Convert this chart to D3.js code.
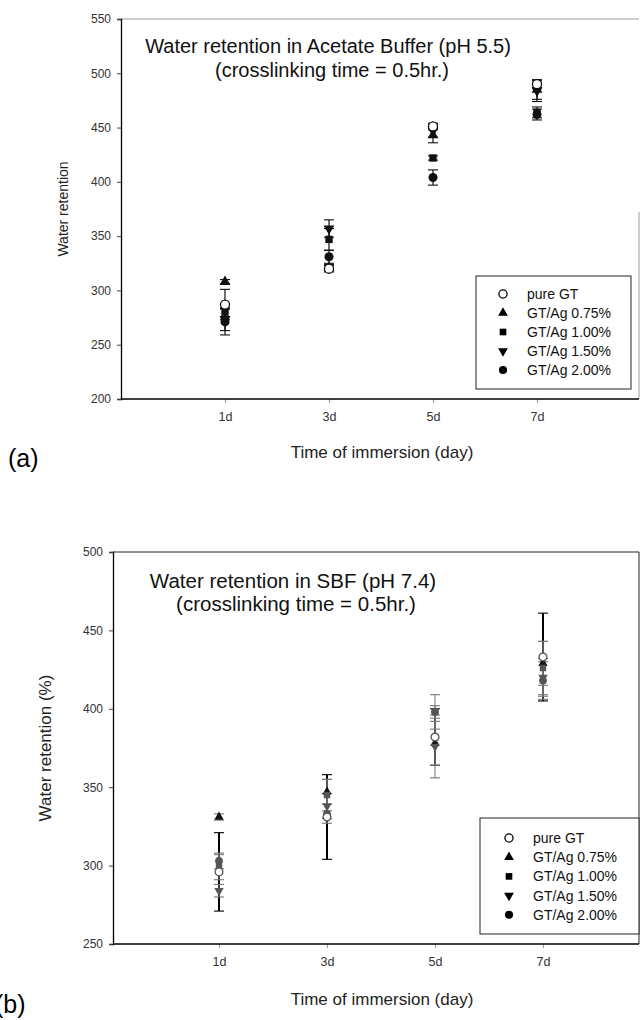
<!DOCTYPE html>
<html><head><meta charset="utf-8">
<script src="https://cdn.jsdelivr.net/npm/d3@7"></script>
<style>
html,body{margin:0;padding:0;background:#fff;}
svg{display:block;}
text{font-family:"Liberation Sans",Arial,sans-serif;}
</style></head>
<body>
<svg id="c" width="641" height="1020"></svg>
<script>
const days = ["1d","3d","5d","7d"];
const seriesNames = ["pure GT","GT/Ag 0.75%","GT/Ag 1.00%","GT/Ag 1.50%","GT/Ag 2.00%"];
const seriesShapes = ["circleOpen","triangle","square","triangleDown","circle"];

// (a) Acetate buffer pH 5.5 — mean and SD per day
const acetateMean = [
  [287, 320, 451, 490],
  [308, 321, 443, 485],
  [280, 347, 422, 464],
  [273, 357, 447, 484],
  [271, 331, 404, 462]
];
const acetateSD = [
  [14, 3, 3, 3],
  [2, 3, 7, 9],
  [4, 10, 2, 5],
  [10, 8, 6, 10],
  [12, 6, 7, 5]
];
const acetateTicks = [200,250,300,350,400,450,500,550];

// (b) SBF pH 7.4
const sbfMean = [
  [296, 331, 382, 433],
  [331, 347, 378, 429],
  [299, 345, 398, 426],
  [284, 338, 376, 420],
  [303, 333, 398, 418]
];
const sbfSD = [
  [25, 27, 18, 28],
  [2, 8, 14, 14],
  [8, 10, 11, 17],
  [4, 8, 20, 12],
  [5, 6, 4, 12]
];
const sbfTicks = [250,300,350,400,450,500];

const svg = d3.select("#c");

function shapePath(kind, size){
  if(kind==="triangle"||kind==="triangleDown") return d3.symbol(d3.symbolTriangle, size*0.8)();
  if(kind==="square") return d3.symbol(d3.symbolSquare, size*0.85)();
  return d3.symbol(d3.symbolCircle, size)();
}
function drawMarker(g, kind, x, y, size, color){
  const p = g.append("path").attr("d", shapePath(kind,size))
    .attr("transform", `translate(${x},${y})` + (kind==="triangleDown"?" rotate(180)":""));
  if(kind==="circleOpen") p.attr("fill","#fff").attr("stroke",color).attr("stroke-width",1.3);
  else p.attr("fill",color);
}

function panel(cfg){
  const g = svg.append("g");
  const x = d3.scaleLinear().domain([1,4]).range(cfg.xr);
  const y = d3.scaleLinear().domain(cfg.yd).range(cfg.yr);
  const [x0,x1] = cfg.frameX;
  // frame
  g.append("line").attr("x1",x0).attr("x2",x1).attr("y1",y(cfg.yd[1])).attr("y2",y(cfg.yd[1]))
    .attr("stroke",cfg.topColor).attr("stroke-width",1);
  g.append("line").attr("x1",x1).attr("x2",x1).attr("y1",cfg.rightTop).attr("y2",y(cfg.yd[0]))
    .attr("stroke",cfg.topColor).attr("stroke-width",1);
  // axes
  const ya = d3.axisLeft(y).tickValues(cfg.ticks).tickSize(4).tickPadding(6).tickFormat(d3.format("d"));
  const yg = g.append("g").attr("transform",`translate(${x0},0)`).call(ya);
  yg.select(".domain").attr("stroke","#000").attr("stroke-width",1.3);
  yg.selectAll(".tick line").attr("stroke","#444");
  yg.selectAll(".tick text").attr("font-size",12).attr("fill","#333")
    .attr("font-family","'Liberation Sans',Arial,sans-serif");
  const xa = d3.axisBottom(x).tickValues([1,2,3,4]).tickFormat((d,i)=>days[i]).tickSize(4).tickPadding(9);
  const xg = g.append("g").attr("transform",`translate(0,${y(cfg.yd[0])})`).call(xa);
  xg.select(".domain").remove();
  g.append("line").attr("x1",x0).attr("x2",x1).attr("y1",y(cfg.yd[0])).attr("y2",y(cfg.yd[0]))
    .attr("stroke","#000").attr("stroke-width",1.3);
  xg.selectAll(".tick line").attr("stroke","#999");
  xg.selectAll(".tick text").attr("font-size",12.5).attr("fill","#333")
    .attr("font-family","'Liberation Sans',Arial,sans-serif");
  // titles
  cfg.title.forEach((t,i)=>{
    g.append("text").attr("x",cfg.titleX[i]).attr("y",cfg.titleY[i]).attr("text-anchor","middle")
      .attr("font-size",cfg.titleSize).attr("fill","#111").text(t);
  });
  g.append("text").attr("transform",`translate(${cfg.ylabX},${(y(cfg.yd[0])+y(cfg.yd[1]))/2}) rotate(-90)`)
    .attr("text-anchor","middle").attr("font-size",cfg.ylabSize).attr("fill","#222").text(cfg.ylab);
  g.append("text").attr("x",382).attr("y",cfg.xlabY).attr("text-anchor","middle")
    .attr("font-size",17).attr("fill","#222").text("Time of immersion (day)");
  g.append("text").attr("x",cfg.tagX).attr("y",cfg.tagY).attr("font-size",25)
    .attr("font-family","'Liberation Serif','Times New Roman',serif").attr("fill","#000").text(cfg.tag);
  // data: error bars then markers
  const eg = g.append("g");
  cfg.mean.forEach((row,s)=>{
    row.forEach((m,k)=>{
      const cx = x(k+1), sd = cfg.sd[s][k];
      const col = cfg.errColor(s);
      eg.append("line").attr("x1",cx).attr("x2",cx).attr("y1",y(m-sd)).attr("y2",y(m+sd))
        .attr("stroke",col).attr("stroke-width",cfg.errW(s));
      [m-sd,m+sd].forEach(v=>eg.append("line").attr("x1",cx-5).attr("x2",cx+5)
        .attr("y1",y(v)).attr("y2",y(v)).attr("stroke",col).attr("stroke-width",1.1));
    });
  });
  const mg = g.append("g");
  [1,2,3,4,0].forEach(s=>{
    cfg.mean[s].forEach((m,k)=>drawMarker(mg, seriesShapes[s], x(k+1), y(m), cfg.mSize, cfg.mColor(s)));
  });
  // legend
  const L = cfg.legend;
  g.append("rect").attr("x",L.x).attr("y",L.y).attr("width",L.w).attr("height",L.h)
    .attr("fill","#fff").attr("stroke","#222").attr("stroke-width",1);
  seriesNames.forEach((n,i)=>{
    const yy = L.row0 + i*L.dy;
    drawMarker(g, seriesShapes[i], L.sx, yy, 52, "#000");
    g.append("text").attr("x",L.tx).attr("y",yy+5).attr("font-size",L.fs).attr("fill","#111").text(n);
  });
}

panel({
  xr:[225,537], yd:[200,550], yr:[399,19], frameX:[121,639], rightTop:212,
  topColor:"#9a9a9a", ticks:acetateTicks,
  title:["Water retention in Acetate Buffer (pH 5.5)","(crosslinking time = 0.5hr.)"],
  titleX:[328,332], titleY:[53,77], titleSize:20,
  ylab:"Water retention", ylabX:68, ylabSize:14, xlabY:458, tag:"(a)", tagX:8, tagY:467,
  mean:acetateMean, sd:acetateSD, mSize:64,
  errColor:()=> "#111", errW:()=>1.2, mColor:()=> "#111",
  legend:{x:476,y:276,w:155,h:113,row0:294,dy:19,sx:503,tx:527,fs:14}
});

panel({
  xr:[219,543], yd:[250,500], yr:[944,552], frameX:[113,639], rightTop:552,
  topColor:"#222", ticks:sbfTicks,
  title:["Water retention in SBF (pH 7.4)","(crosslinking time = 0.5hr.)"],
  titleX:[293,296], titleY:[588,611], titleSize:20.5,
  ylab:"Water retention (%)", ylabX:51, ylabSize:17, xlabY:1005, tag:"(b)", tagX:-5, tagY:1013,
  mean:sbfMean, sd:sbfSD, mSize:48,
  errColor:s=> s===0?"#000":"#777", errW:s=> s===0?2:1, mColor:s=> s===1?"#111":"#555",
  legend:{x:480,y:818,w:159,h:116,row0:838,dy:19.2,sx:509,tx:533,fs:14}
});
</script>
</body></html>
